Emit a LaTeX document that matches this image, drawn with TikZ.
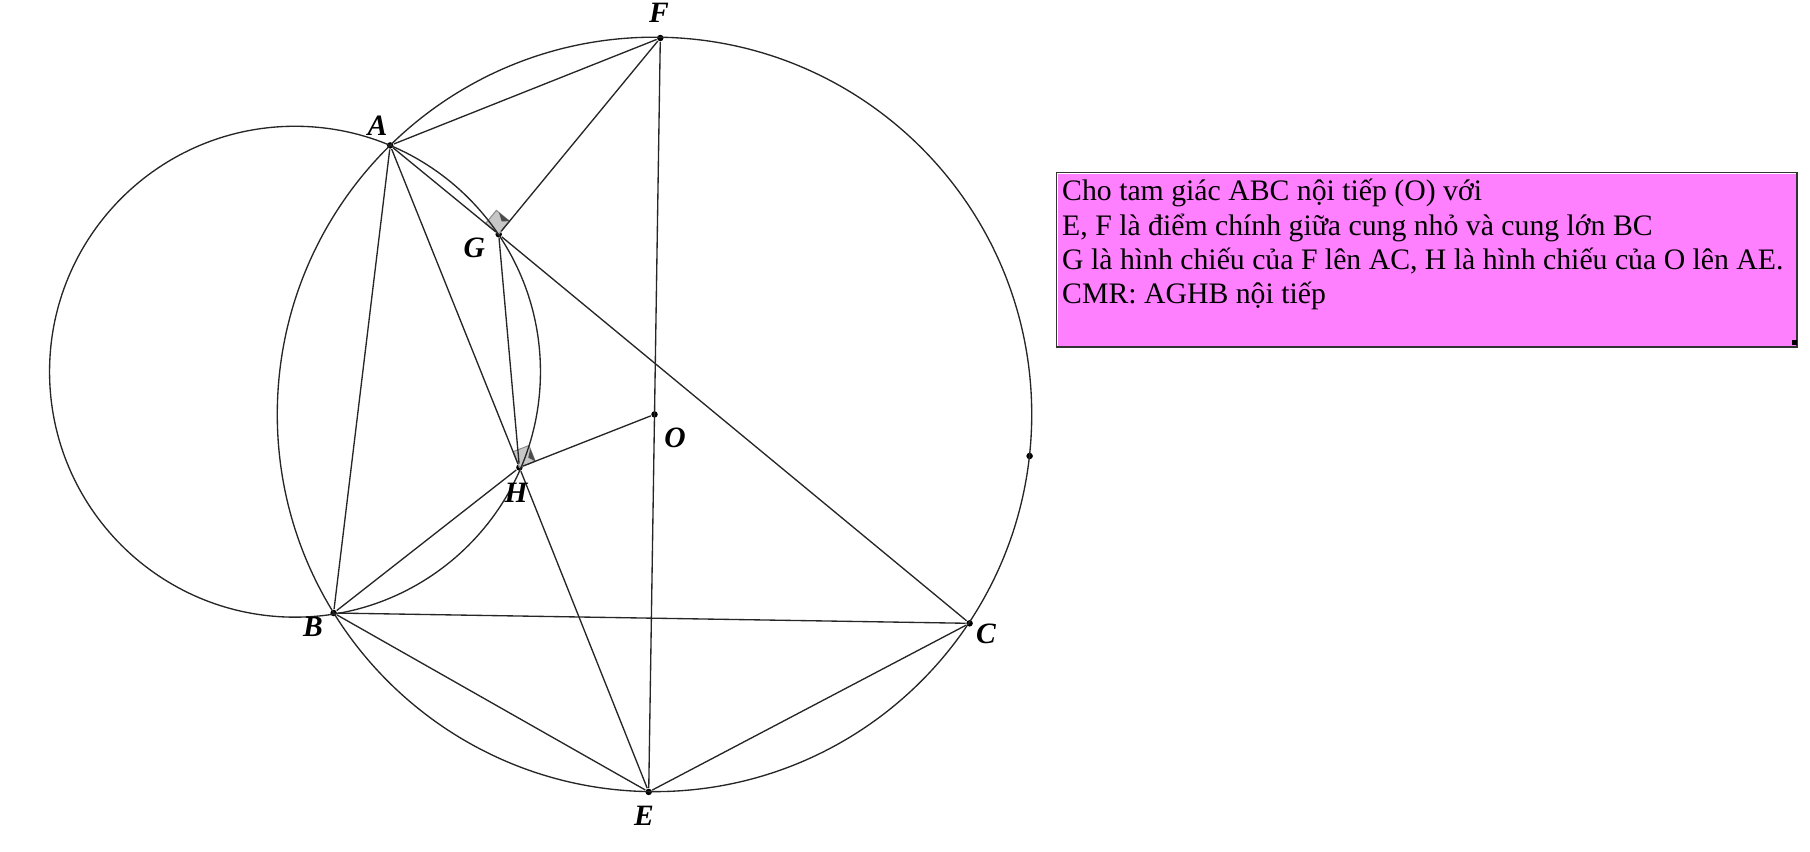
\documentclass[tikz,border=0pt]{standalone}
\usepackage{fontspec}
\setmainfont{Liberation Serif}
\usetikzlibrary{calc}
\tikzset{
    point/.style={circle,fill=black,inner sep=0pt,minimum size=.065cm},
    ptlabel/.style={font=\fontsize{8.4}{10}\selectfont\bfseries\itshape,inner sep=0pt},
    seg/.style={line width=.38pt,black!85},
    rightmark/.style={fill=black!22,draw=black!45,line width=.3pt},
    notebox/.style={draw=black!80,line width=.4pt,fill=white,anchor=north west,minimum width=7.4cm,minimum height=1.74cm,inner sep=0pt}
}
\definecolor{notepink}{RGB}{255,128,255}
\begin{document}
\begin{tikzpicture}[x=.01cm,y=-.01cm]
    \def \radiusO {3.77cm}
    \def \radiusI {2.453cm}
    \def \mark {.17cm}
    \useasboundingbox (0,0) rectangle (1810,851);
    \foreach \p/\x/\y in {F/660.3/38,A/390.2/145.4,G/498.7/234.3,H/519.4/467.5,O/654.5/414.4,B/333.6/613,C/969.6/623.3,E/648.7/791.9,P/1029.6/456}
    {
      \node[point] (\p) at (\x,\y) {};
    }
    \coordinate (I) at (295,371.7);
    % right angles at G and H
    \foreach \p/\u/\v in {G/A/F,H/A/O}
    {
      \coordinate (u) at ($(\p.center)!\mark!(\u.center)$);
      \coordinate (v) at ($(\p.center)!\mark!(\v.center)$);
      \coordinate (w) at ($(u)+(v)-(\p.center)$);
      \draw[rightmark] (\p.center) -- (u) -- (w) -- (v) -- cycle;
      \fill[black!70] ($(w)!.2!(v)$) -- ($(w)!1!(v)$) -- ($($(w)!.5!(v)$)!.3!(\p.center)$) -- cycle;
    }
    \draw[seg] (O.center) circle (\radiusO);
    \draw[seg] (I) circle (\radiusI);
    \foreach \a/\b in {A/F,F/G,A/G,G/C,A/B,A/H,H/E,G/H,H/O,B/H,B/C,B/E,C/E,F/E}
    {
      \draw[seg] (\a) -- (\b);
    }
    \foreach \p/\x/\y in {F/659/12.7,A/377.5/126,G/474.4/248,H/516/493,O/675/437.5,B/313/627,C/986/634,E/644/816}
    {
      \node[ptlabel] (lab\p) at (\x,\y) {\p};
    }
    % text box
    \node[notebox] (box) at (1056,172) {};
    \fill[notepink] ($(box.north west)+(2,2)$) rectangle ($(box.south east)+(-2,-2)$);
    \node[anchor=north west,align=left,inner sep=0pt,font=\fontsize{8.46}{9.76}\selectfont] (note) at (1061.5,178.5)
      {Cho tam giác ABC nội tiếp (O) với\\
       E, F là điểm chính giữa cung nhỏ và cung lớn BC\\
       G là hình chiếu của F lên AC, H là hình chiếu của O lên AE.\\
       CMR: AGHB nội tiếp};
    \node[fill=black,inner sep=0pt,minimum size=.05cm] (handle) at (1794,342.7) {};
\end{tikzpicture}
\end{document}
